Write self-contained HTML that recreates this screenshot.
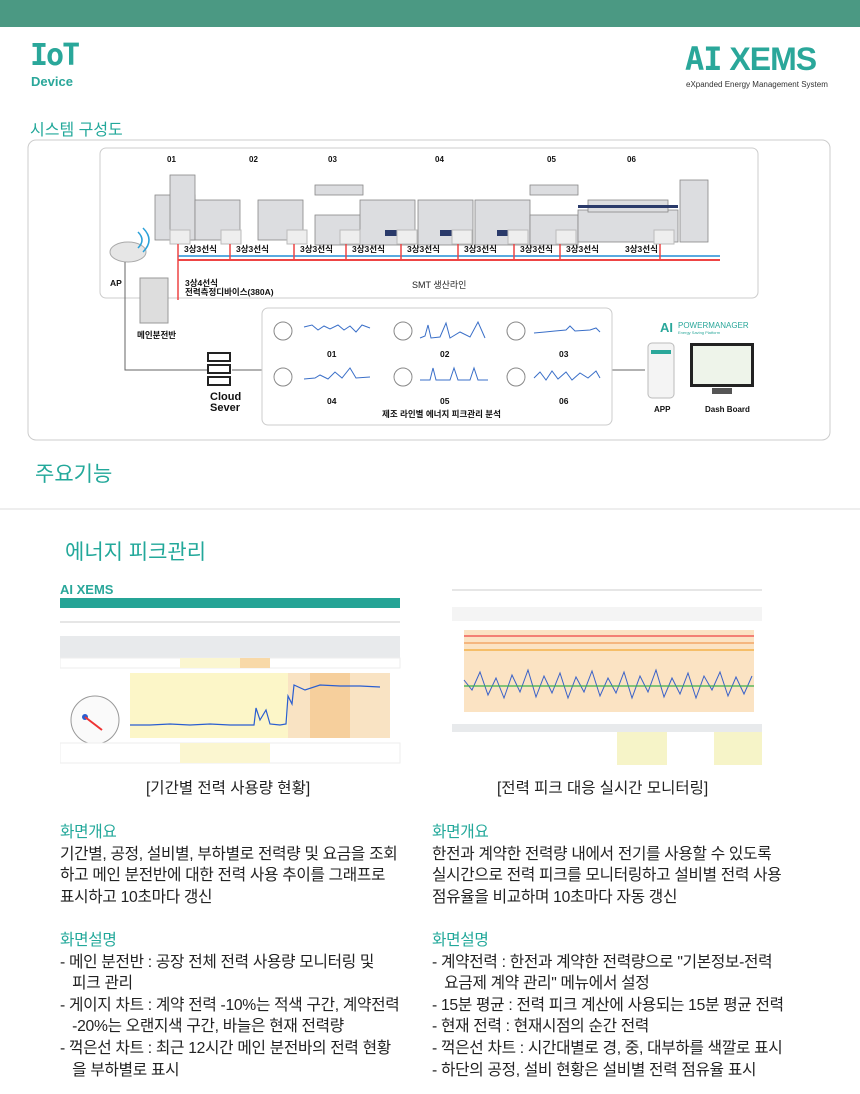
<!DOCTYPE html>
<html><head><meta charset="utf-8"><style>
body{margin:0;width:860px;height:1094px;background:#fff;position:relative;overflow:hidden;font-family:"Liberation Sans","Noto Sans CJK KR",sans-serif;}
.a{position:absolute;white-space:nowrap}
.t{color:#22a89a}
.p{font-size:15.7px;line-height:21.6px;color:#222;letter-spacing:-0.3px}
</style></head><body>
<div class="a" style="left:0;top:0;width:860px;height:27px;background:#4b9983"></div>
<div class="a t" style="left:30px;top:38px;font-size:30px;font-weight:bold;font-family:'DejaVu Sans Mono',monospace;letter-spacing:-2px;color:#2aa79a">IoT</div>
<div class="a t" style="left:31px;top:74px;font-size:13px;font-weight:bold;color:#2aa79a">Device</div>
<div class="a" style="left:685px;top:40px;font-size:32px;font-weight:bold;color:#2aa79a;letter-spacing:-1px"><span style="font-family:'DejaVu Sans Mono',monospace">AI</span> XEMS</div>
<div class="a" style="left:686px;top:80px;font-size:8px;color:#333">eXpanded Energy Management System</div>
<div class="a t" style="left:30px;top:116px;font-size:16px">시스템 구성도</div>

<svg class="a" style="left:0;top:0" width="860" height="1094">
<rect x="28" y="140" width="802" height="300" rx="8" fill="#fff" stroke="#ccc"/>
<rect x="100" y="148" width="658" height="150" rx="6" fill="#fff" stroke="#ccc"/>
<g font-size="8" font-weight="bold" fill="#111" font-family="Liberation Sans">
<text x="167" y="162">01</text><text x="249" y="162">02</text><text x="328" y="162">03</text><text x="435" y="162">04</text><text x="547" y="162">05</text><text x="627" y="162">06</text>
</g>
<g fill="#dcdde0" stroke="#888" stroke-width="0.8">
<rect x="155" y="195" width="40" height="45"/><rect x="170" y="175" width="25" height="65"/>
<rect x="195" y="200" width="45" height="40"/><rect x="258" y="200" width="45" height="40"/>
<rect x="315" y="215" width="48" height="30"/><rect x="315" y="185" width="48" height="10"/>
<rect x="360" y="200" width="55" height="45"/><rect x="418" y="200" width="55" height="45"/><rect x="475" y="200" width="55" height="45"/>
<rect x="530" y="215" width="48" height="30"/><rect x="530" y="185" width="48" height="10"/>
<rect x="578" y="210" width="100" height="32"/><rect x="588" y="200" width="80" height="12"/>
<rect x="680" y="180" width="28" height="62"/>
</g>
<g fill="#2a3a6a"><rect x="385" y="230" width="20" height="6"/><rect x="440" y="230" width="20" height="6"/><rect x="497" y="230" width="20" height="6"/><rect x="578" y="205" width="100" height="3"/></g>
<g fill="#eee" stroke="#bbb"><rect x="170" y="230" width="20" height="14"/><rect x="221" y="230" width="20" height="14"/><rect x="287" y="230" width="20" height="14"/><rect x="340" y="230" width="20" height="14"/><rect x="397" y="230" width="20" height="14"/><rect x="452" y="230" width="20" height="14"/><rect x="508" y="230" width="20" height="14"/><rect x="556" y="230" width="20" height="14"/><rect x="654" y="230" width="20" height="14"/></g>
<g stroke="#e44" stroke-width="2"><line x1="178" y1="260" x2="720" y2="260"/></g>
<g stroke="#5aaae0" stroke-width="2"><line x1="178" y1="256" x2="720" y2="256"/></g>
<g stroke="#e44" stroke-width="1.5"><line x1="178" y1="244" x2="178" y2="300"/><line x1="230" y1="244" x2="230" y2="260"/><line x1="294" y1="244" x2="294" y2="260"/><line x1="346" y1="244" x2="346" y2="260"/><line x1="401" y1="244" x2="401" y2="260"/><line x1="458" y1="244" x2="458" y2="260"/><line x1="514" y1="244" x2="514" y2="260"/><line x1="560" y1="244" x2="560" y2="260"/><line x1="660" y1="244" x2="660" y2="260"/></g>
<g font-size="8.5" font-weight="bold" fill="#111" font-family="Liberation Sans,Noto Sans CJK KR">
<text x="184" y="252">3상3선식</text><text x="236" y="252">3상3선식</text><text x="300" y="252">3상3선식</text><text x="352" y="252">3상3선식</text><text x="407" y="252">3상3선식</text><text x="464" y="252">3상3선식</text><text x="520" y="252">3상3선식</text><text x="566" y="252">3상3선식</text><text x="625" y="252">3상3선식</text>
<text x="185" y="286">3상4선식</text><text x="185" y="295">전력측정디바이스(380A)</text>
<text x="110" y="286">AP</text><text x="137" y="338">메인분전반</text>
</g>
<text x="412" y="288" font-size="9" fill="#222" font-family="Liberation Sans,Noto Sans CJK KR">SMT 생산라인</text>
<ellipse cx="128" cy="252" rx="18" ry="10" fill="#e6e6e6" stroke="#aaa"/>
<path d="M138 232 q8 8 0 16 M143 228 q12 12 0 24" stroke="#2aa1d8" stroke-width="1.5" fill="none"/>
<rect x="140" y="278" width="28" height="45" fill="#ddd" stroke="#999"/>
<polyline points="125,262 125,370 207,370" fill="none" stroke="#666"/>
<g fill="#fff" stroke="#222" stroke-width="2"><rect x="208" y="353" width="22" height="8"/><rect x="208" y="365" width="22" height="8"/><rect x="208" y="377" width="22" height="8"/></g>
<text x="210" y="400" font-size="11" font-weight="bold" fill="#111">Cloud</text><text x="210" y="411" font-size="11" font-weight="bold" fill="#111">Sever</text>
<line x1="232" y1="370" x2="262" y2="370" stroke="#666"/>
<line x1="612" y1="370" x2="645" y2="370" stroke="#666"/>
<rect x="262" y="308" width="350" height="117" rx="6" fill="#fff" stroke="#ccc"/>
<g fill="none" stroke="#3a6fc8" stroke-width="1">
<polyline points="304,327 312,325 318,330 324,326 330,329 338,325 344,330 350,326 356,332 362,325 370,328"/>
<polyline points="420,338 425,336 428,325 431,338 440,337 446,323 450,338 460,332 470,337 478,322 485,338"/>
<polyline points="534,333 545,332 555,331 566,330 570,326 575,331 590,330 596,328 600,332"/>
<polyline points="304,379 315,378 320,375 328,379 335,372 342,378 350,368 356,378 370,377"/>
<polyline points="420,380 430,380 433,368 436,380 450,380 454,368 458,380 470,380 474,368 478,380 488,380"/>
<polyline points="534,378 540,372 546,380 552,371 558,379 566,372 572,380 580,373 588,378 596,371 600,378"/>
</g>
<g fill="#fff" stroke="#888"><circle cx="283" cy="331" r="9"/><circle cx="403" cy="331" r="9"/><circle cx="516" cy="331" r="9"/><circle cx="283" cy="377" r="9"/><circle cx="403" cy="377" r="9"/><circle cx="516" cy="377" r="9"/></g>
<g font-size="8.5" font-weight="bold" fill="#111">
<text x="327" y="357">01</text><text x="440" y="357">02</text><text x="559" y="357">03</text><text x="327" y="404">04</text><text x="440" y="404">05</text><text x="559" y="404">06</text>
</g>
<text x="382" y="417" font-size="8.5" font-weight="bold" fill="#111" font-family="Liberation Sans,Noto Sans CJK KR">제조 라인별 에너지 피크관리 분석</text>
<text x="660" y="332" font-size="13" font-weight="bold" fill="#2aa79a">AI</text>
<text x="678" y="328" font-size="8" fill="#2aa79a">POWERMANAGER</text>
<text x="678" y="334" font-size="4" fill="#2aa79a">Energy Saving Platform</text>
<rect x="648" y="343" width="26" height="55" rx="4" fill="#f4f4f4" stroke="#bbb"/>
<rect x="651" y="350" width="20" height="4" fill="#2aa79a"/>
<rect x="690" y="343" width="64" height="44" fill="#222"/><rect x="693" y="346" width="58" height="38" fill="#eef4ea"/>
<rect x="712" y="388" width="20" height="6" fill="#555"/>
<text x="654" y="412" font-size="8" font-weight="bold" fill="#111">APP</text><text x="705" y="412" font-size="8" font-weight="bold" fill="#111">Dash Board</text>
<line x1="0" y1="509" x2="860" y2="509" stroke="#ddd"/>
</svg>

<div class="a t" style="left:35px;top:458px;font-size:21px">주요기능</div>
<div class="a t" style="left:65px;top:536px;font-size:21px">에너지 피크관리</div>

<svg class="a" style="left:60px;top:580px" width="345" height="185">
<text x="0" y="14" font-size="13" font-weight="bold" fill="#2aa79a">AI XEMS</text>
<rect x="0" y="18" width="340" height="10" fill="#25a496"/>
<line x1="0" y1="42" x2="340" y2="42" stroke="#ccc"/>
<rect x="0" y="56" width="340" height="22" fill="#e8eaec"/>
<rect x="0" y="78" width="340" height="10" fill="#fff" stroke="#eee"/>
<rect x="120" y="78" width="90" height="10" fill="#fbf6d0"/><rect x="180" y="78" width="30" height="10" fill="#f8d9a8"/>
<rect x="70" y="93" width="260" height="65" fill="#fcf6c8"/>
<rect x="228" y="93" width="102" height="65" fill="#f9e3c3"/><rect x="250" y="93" width="40" height="65" fill="#f6cf9c"/>
<polyline points="70,145 90,145 110,144 130,145 150,144 170,145 194,145 196,128 200,140 206,130 210,144 220,145 226,144 228,116 232,124 234,105 245,110 260,105 280,106 300,106 320,107" fill="none" stroke="#2a5ed0" stroke-width="1.2"/>
<circle cx="35" cy="140" r="24" fill="#fafafa" stroke="#999"/>
<circle cx="25" cy="137" r="3" fill="#2a5ed0"/><line x1="25" y1="137" x2="42" y2="150" stroke="#e33" stroke-width="2"/>
<rect x="0" y="163" width="340" height="20" fill="#fff" stroke="#eee"/>
<rect x="120" y="163" width="90" height="20" fill="#fbf6d0"/>
</svg>
<svg class="a" style="left:452px;top:580px" width="310" height="185">
<line x1="0" y1="10" x2="310" y2="10" stroke="#ccc"/>
<rect x="0" y="27" width="310" height="14" fill="#f4f4f4"/>
<rect x="12" y="50" width="290" height="82" fill="#fbe3c3"/>
<line x1="12" y1="56" x2="302" y2="56" stroke="#e44" stroke-width="1.2"/>
<line x1="12" y1="63" x2="302" y2="63" stroke="#ef8a3a" stroke-width="1"/>
<line x1="12" y1="70" x2="302" y2="70" stroke="#f3b24a" stroke-width="1.5"/>
<polyline points="12,100 20,110 28,92 36,115 44,98 52,118 60,95 68,112 76,90 84,117 92,96 100,113 108,93 116,118 124,97 132,112 140,91 148,116 156,98 164,113 172,92 180,118 188,96 196,112 204,90 212,117 220,98 228,114 236,93 244,118 252,96 260,110 268,92 276,116 284,97 292,114 300,96" fill="none" stroke="#3a62c8" stroke-width="1"/>
<line x1="12" y1="106" x2="302" y2="106" stroke="#3bb04a" stroke-width="1.2"/>
<rect x="0" y="144" width="310" height="8" fill="#e8eaec"/>
<rect x="165" y="152" width="50" height="40" fill="#f6f4c8"/><rect x="262" y="152" width="48" height="40" fill="#f6f4c8"/>
</svg>

<div class="a" style="left:146px;top:776px;font-size:15.5px;color:#222">[기간별 전력 사용량 현황]</div>
<div class="a" style="left:497px;top:776px;font-size:15.5px;color:#222">[전력 피크 대응 실시간 모니터링]</div>

<div class="a p" style="left:60px;top:822px"><span class="t">화면개요</span><br>기간별, 공정, 설비별, 부하별로 전력량 및 요금을 조회<br>하고 메인 분전반에 대한 전력 사용 추이를 그래프로<br>표시하고 10초마다 갱신<br><br><span class="t">화면설명</span><br>- 메인 분전반 : 공장 전체 전력 사용량 모니터링 및<br>&nbsp;&nbsp;&nbsp;피크 관리<br>- 게이지 차트 : 계약 전력 -10%는 적색 구간, 계약전력<br>&nbsp;&nbsp;&nbsp;-20%는 오랜지색 구간, 바늘은 현재 전력량<br>- 꺽은선 차트 : 최근 12시간 메인 분전바의 전력 현황<br>&nbsp;&nbsp;&nbsp;을 부하별로 표시</div>
<div class="a p" style="left:432px;top:822px"><span class="t">화면개요</span><br>한전과 계약한 전력량 내에서 전기를 사용할 수 있도록<br>실시간으로 전력 피크를 모니터링하고 설비별 전력 사용<br>점유율을 비교하며 10초마다 자동 갱신<br><br><span class="t">화면설명</span><br>- 계약전력 : 한전과 계약한 전력량으로 "기본정보-전력<br>&nbsp;&nbsp;&nbsp;요금제 계약 관리" 메뉴에서 설정<br>- 15분 평균 : 전력 피크 계산에 사용되는 15분 평균 전력<br>- 현재 전력 : 현재시점의 순간 전력<br>- 꺽은선 차트 : 시간대별로 경, 중, 대부하를 색깔로 표시<br>- 하단의 공정, 설비 현황은 설비별 전력 점유율 표시</div>
</body></html>
